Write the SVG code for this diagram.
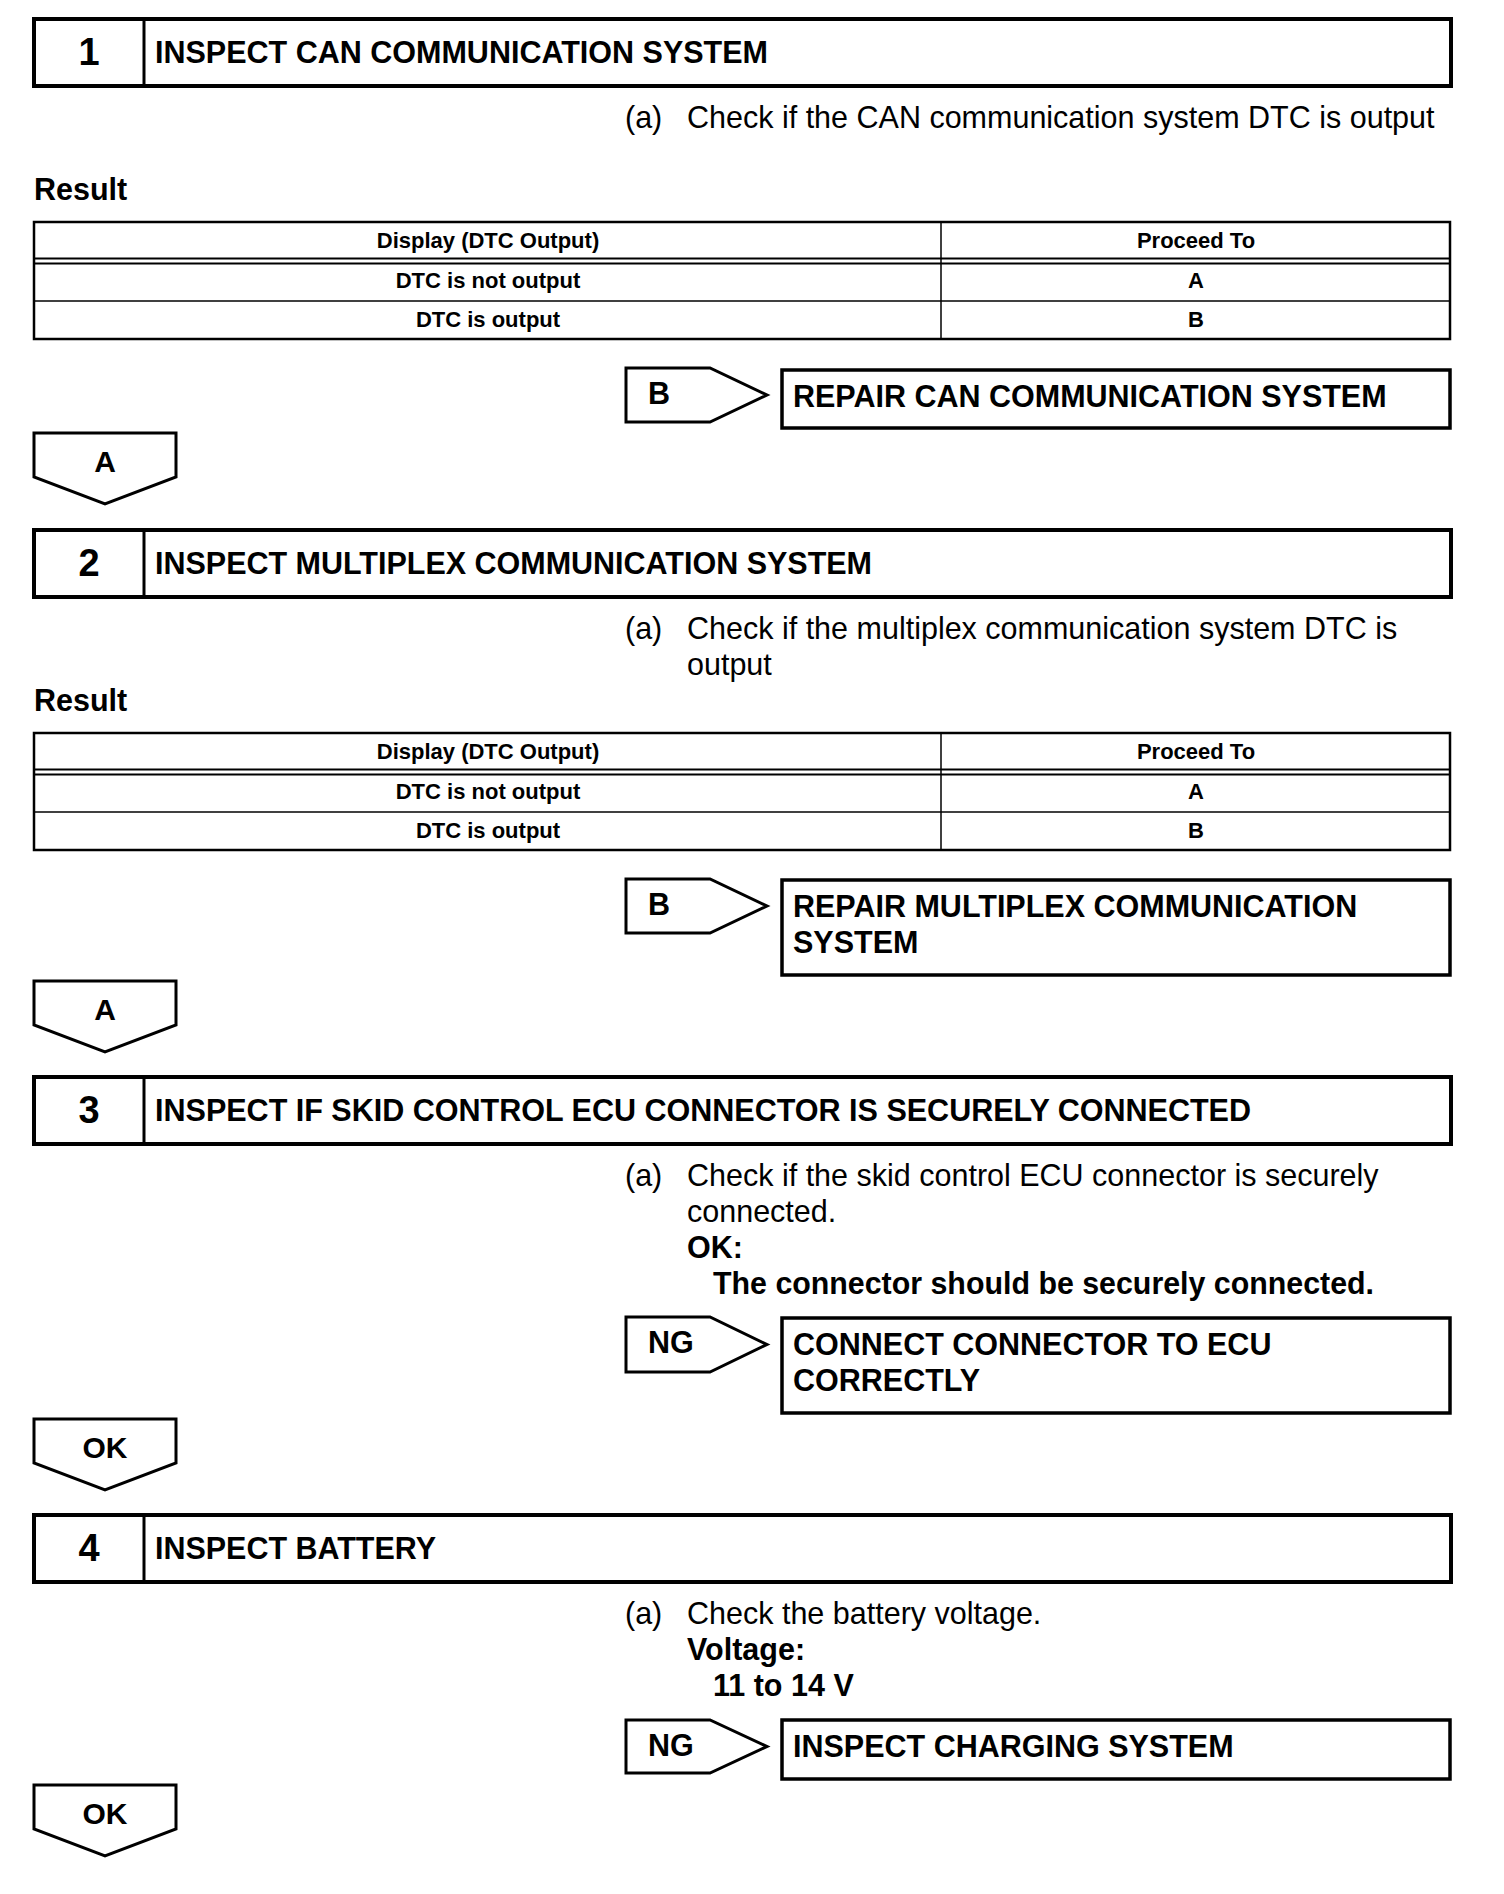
<svg xmlns="http://www.w3.org/2000/svg" width="1504" height="1894" viewBox="0 0 1504 1894">
<style>
  .box{fill:#fff;stroke:#000;stroke-width:4}
  .div{stroke:#000;stroke-width:3}
  .rbox{fill:#fff;stroke:#000;stroke-width:3.5}
  .arr{fill:#fff;stroke:#000;stroke-width:3;stroke-linejoin:miter}
  .tb{fill:none;stroke:#000;stroke-width:2.5}
  .tl{stroke:#000;stroke-width:1.5}
  .dl{stroke:#000;stroke-width:2}
  text{font-family:"Liberation Sans",Arial,sans-serif;fill:#000}
  .num{font-size:38px;font-weight:bold;text-anchor:middle}
  .ttl{font-size:32px;font-weight:bold}
  .rep{font-size:30.5px;font-weight:bold}
  .reg{font-size:30.5px}
  .bld{font-size:30.5px;font-weight:bold}
  .th{font-size:22px;font-weight:bold;text-anchor:middle}
  .lbl{font-size:30px;font-weight:bold;text-anchor:middle}
</style>

<!-- STEP 1 -->
<g id="step1">
  <rect class="box" x="34" y="19" width="1417" height="67"/>
  <line class="div" x1="144" y1="19" x2="144" y2="86"/>
  <text class="num" x="89" y="65">1</text>
  <text class="ttl" x="155" y="63" textLength="613" lengthAdjust="spacingAndGlyphs">INSPECT CAN COMMUNICATION SYSTEM</text>
</g>
<g id="step1-text">
  <text class="reg" x="625" y="128">(a)</text>
  <text class="reg" x="687" y="128">Check if the CAN communication system DTC is output</text>
  <text class="bld" x="34" y="200">Result</text>
</g>
<g id="table1">
  <rect class="tb" x="34" y="222" width="1416" height="117"/>
  <line class="tl" x1="941" y1="222" x2="941" y2="339"/>
  <line class="dl" x1="34" y1="258.5" x2="1450" y2="258.5"/>
  <line class="dl" x1="34" y1="263.5" x2="1450" y2="263.5"/>
  <line class="tl" x1="34" y1="301" x2="1450" y2="301"/>
  <text class="th" x="488" y="248">Display (DTC Output)</text>
  <text class="th" x="1196" y="248">Proceed To</text>
  <text class="th" x="488" y="288">DTC is not output</text>
  <text class="th" x="1196" y="288">A</text>
  <text class="th" x="488" y="327">DTC is output</text>
  <text class="th" x="1196" y="327">B</text>
</g>
<g id="branch1-B">
  <polygon class="arr" points="626,368 710,368 767,395 710,422 626,422"/>
  <text class="bld" x="648" y="404">B</text>
</g>
<g id="repair1">
  <rect class="rbox" x="782" y="370" width="668" height="58"/>
  <text class="rep" x="793" y="407">REPAIR CAN COMMUNICATION SYSTEM</text>
</g>
<g id="down1-A">
  <polygon class="arr" points="34,433 176,433 176,477 105,504 34,477"/>
  <text class="lbl" x="105" y="472">A</text>
</g>

<!-- STEP 2 -->
<g id="step2">
  <rect class="box" x="34" y="530" width="1417" height="67"/>
  <line class="div" x1="144" y1="530" x2="144" y2="597"/>
  <text class="num" x="89" y="576">2</text>
  <text class="ttl" x="155" y="574" textLength="717" lengthAdjust="spacingAndGlyphs">INSPECT MULTIPLEX COMMUNICATION SYSTEM</text>
</g>
<g id="step2-text">
  <text class="reg" x="625" y="639">(a)</text>
  <text class="reg" x="687" y="639">Check if the multiplex communication system DTC is</text>
  <text class="reg" x="687" y="675">output</text>
  <text class="bld" x="34" y="711">Result</text>
</g>
<g id="table2">
  <rect class="tb" x="34" y="733" width="1416" height="117"/>
  <line class="tl" x1="941" y1="733" x2="941" y2="850"/>
  <line class="dl" x1="34" y1="769.5" x2="1450" y2="769.5"/>
  <line class="dl" x1="34" y1="774.5" x2="1450" y2="774.5"/>
  <line class="tl" x1="34" y1="812" x2="1450" y2="812"/>
  <text class="th" x="488" y="759">Display (DTC Output)</text>
  <text class="th" x="1196" y="759">Proceed To</text>
  <text class="th" x="488" y="799">DTC is not output</text>
  <text class="th" x="1196" y="799">A</text>
  <text class="th" x="488" y="838">DTC is output</text>
  <text class="th" x="1196" y="838">B</text>
</g>
<g id="branch2-B">
  <polygon class="arr" points="626,879 710,879 767,906 710,933 626,933"/>
  <text class="bld" x="648" y="915">B</text>
</g>
<g id="repair2">
  <rect class="rbox" x="782" y="880" width="668" height="95"/>
  <text class="rep" x="793" y="917">REPAIR MULTIPLEX COMMUNICATION</text>
  <text class="rep" x="793" y="953">SYSTEM</text>
</g>
<g id="down2-A">
  <polygon class="arr" points="34,981 176,981 176,1025 105,1052 34,1025"/>
  <text class="lbl" x="105" y="1020">A</text>
</g>

<!-- STEP 3 -->
<g id="step3">
  <rect class="box" x="34" y="1077" width="1417" height="67"/>
  <line class="div" x1="144" y1="1077" x2="144" y2="1144"/>
  <text class="num" x="89" y="1123">3</text>
  <text class="ttl" x="155" y="1121" textLength="1096" lengthAdjust="spacingAndGlyphs">INSPECT IF SKID CONTROL ECU CONNECTOR IS SECURELY CONNECTED</text>
</g>
<g id="step3-text">
  <text class="reg" x="625" y="1186">(a)</text>
  <text class="reg" x="687" y="1186">Check if the skid control ECU connector is securely</text>
  <text class="reg" x="687" y="1222">connected.</text>
  <text class="bld" x="687" y="1258">OK:</text>
  <text class="bld" x="713" y="1294" textLength="661" lengthAdjust="spacingAndGlyphs">The connector should be securely connected.</text>
</g>
<g id="branch3-NG">
  <polygon class="arr" points="626,1317 710,1317 767,1344.5 710,1372 626,1372"/>
  <text class="bld" x="648" y="1353">NG</text>
</g>
<g id="repair3">
  <rect class="rbox" x="782" y="1318" width="668" height="95"/>
  <text class="rep" x="793" y="1355">CONNECT CONNECTOR TO ECU</text>
  <text class="rep" x="793" y="1391">CORRECTLY</text>
</g>
<g id="down3-OK">
  <polygon class="arr" points="34,1419 176,1419 176,1463 105,1490 34,1463"/>
  <text class="lbl" x="105" y="1458">OK</text>
</g>

<!-- STEP 4 -->
<g id="step4">
  <rect class="box" x="34" y="1515" width="1417" height="67"/>
  <line class="div" x1="144" y1="1515" x2="144" y2="1582"/>
  <text class="num" x="89" y="1561">4</text>
  <text class="ttl" x="155" y="1559" textLength="281" lengthAdjust="spacingAndGlyphs">INSPECT BATTERY</text>
</g>
<g id="step4-text">
  <text class="reg" x="625" y="1624">(a)</text>
  <text class="reg" x="687" y="1624">Check the battery voltage.</text>
  <text class="bld" x="687" y="1660">Voltage:</text>
  <text class="bld" x="713" y="1696">11 to 14 V</text>
</g>
<g id="branch4-NG">
  <polygon class="arr" points="626,1720 710,1720 767,1746.5 710,1773 626,1773"/>
  <text class="bld" x="648" y="1756">NG</text>
</g>
<g id="repair4">
  <rect class="rbox" x="782" y="1720" width="668" height="59"/>
  <text class="rep" x="793" y="1757">INSPECT CHARGING SYSTEM</text>
</g>
<g id="down4-OK">
  <polygon class="arr" points="34,1785 176,1785 176,1829 105,1856 34,1829"/>
  <text class="lbl" x="105" y="1824">OK</text>
</g>

<g id="connectors"/>
</svg>
